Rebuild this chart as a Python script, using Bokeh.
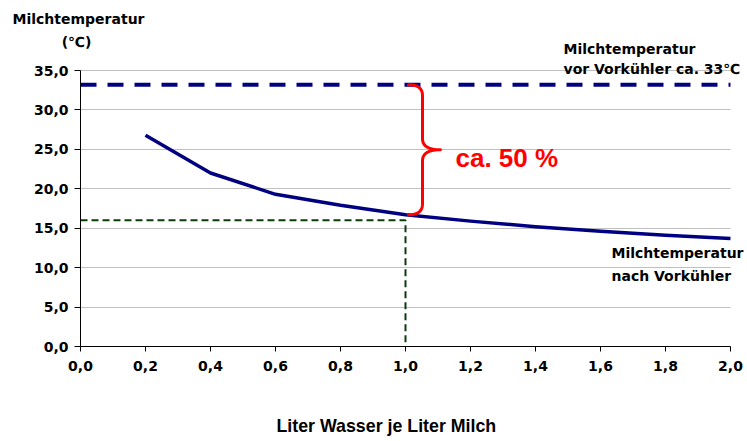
import numpy as np
from bokeh.plotting import figure
from bokeh.models import Range1d, FixedTicker, CustomJSTickFormatter, Label
from bokeh.embed import file_html
from bokeh.resources import INLINE

# ---- data ----
water_per_milk = [0.2, 0.4, 0.6, 0.8, 1.0, 1.2, 1.4, 1.6, 1.8, 2.0]
milk_temp_after = [26.8, 22.0, 19.3, 17.9, 16.7, 15.9, 15.2, 14.6, 14.1, 13.7]
milk_temp_before = 33.2
marker_x = 1.0
marker_y = 16.0
x_ticks = [0.0, 0.2, 0.4, 0.6, 0.8, 1.0, 1.2, 1.4, 1.6, 1.8, 2.0]
y_ticks = [0, 5, 10, 15, 20, 25, 30, 35]

NAVY = "#000080"
GREEN = "#0b3d0b"
RED = "#ff0000"
TICKFONT = "DejaVu Sans"

W, H = 747, 441
# plot area (axes box) in canvas pixels
FL, FR, FT, FB = 80, 730, 70, 346
xpp = (x_ticks[-1] - x_ticks[0]) / (FR - FL)
ypp = (y_ticks[-1] - y_ticks[0]) / (FB - FT)
x_range = Range1d(x_ticks[0] - FL * xpp, x_ticks[-1] + (W - FR) * xpp)
y_range = Range1d(y_ticks[0] - (H - FB) * ypp, y_ticks[-1] + FT * ypp)

p = figure(width=W, height=H, output_backend="svg", toolbar_location=None,
           x_range=x_range, y_range=y_range,
           min_border_left=0, min_border_right=0, min_border_top=0, min_border_bottom=0)
p.title.visible = False
p.outline_line_color = None
p.background_fill_color = "white"
p.border_fill_color = "white"

p.xgrid.grid_line_color = None
p.ygrid.grid_line_color = "#c0c0c0"
p.ygrid.grid_line_width = 1
p.ygrid.bounds = (y_ticks[0], y_ticks[-1])
p.ygrid.cross_bounds = (x_ticks[0], x_ticks[-1])

fmt = CustomJSTickFormatter(code="return tick.toFixed(1).replace('.', ',');")
for ax, ticks in ((p.xaxis[0], x_ticks), (p.yaxis[0], y_ticks)):
    ax.ticker = FixedTicker(ticks=ticks)
    ax.formatter = fmt
    ax.fixed_location = 0
    ax.bounds = (ticks[0], ticks[-1])
    ax.minor_tick_line_color = None
    ax.major_tick_in = 0
    ax.axis_line_color = "black"
    ax.major_tick_line_color = "black"
    ax.major_label_text_font = TICKFONT
    ax.major_label_text_font_style = "bold"
    ax.major_label_text_font_size = "14px"
    ax.major_label_text_color = "black"
p.yaxis.major_tick_out = 6
p.yaxis.major_label_standoff = 6
p.xaxis.major_tick_out = 5
p.xaxis.major_label_standoff = 9

# reference line (before pre-cooler)
p.line([0, 2.0], [milk_temp_before, milk_temp_before], line_color=NAVY,
       line_width=4, line_dash="16 11")

# marker lines at 1 l water / l milk
p.line([0, marker_x, marker_x], [marker_y, marker_y, 0], line_color=GREEN,
       line_width=2, line_dash="7 4")

# main curve
p.line(water_per_milk, milk_temp_after, line_color=NAVY, line_width=3.5, line_join="round")

# curly brace
y_top = milk_temp_before
y_bot = milk_temp_after[water_per_milk.index(1.0)]
y_mid = (y_top + y_bot) / 2
r = 11 * ypp
xl, xm, xt = marker_x + 3 * xpp, marker_x + 17 * xpp, marker_x + 35 * xpp


def quad(a, b, c, n=14):
    t = np.linspace(0, 1, n)[:, None]
    return (1 - t) ** 2 * np.array(a) + 2 * (1 - t) * t * np.array(b) + t ** 2 * np.array(c)


segs = [
    quad((xl, y_top), (xm, y_top), (xm, y_top - r)),
    quad((xm, y_mid + r), (xm, y_mid), (xt, y_mid)),
    quad((xt, y_mid), (xm, y_mid), (xm, y_mid - r)),
    quad((xm, y_bot + r), (xm, y_bot), (xl, y_bot)),
]
brace = np.vstack(segs)
p.line(brace[:, 0], brace[:, 1], line_color=RED, line_width=3, line_join="round", line_cap="round")


def lab(text, px, py, font=TICKFONT, size=14, color="black", align="left"):
    # py is the wanted baseline; the label is anchored a bit lower, so lift it
    p.add_layout(Label(x=px, y=py - 0.346 * size, x_units="canvas", y_units="canvas", text=text,
                       text_font=font, text_font_style="bold", text_font_size=f"{size}px",
                       text_color=color, text_align=align, text_baseline="alphabetic"))


lab("Milchtemperatur", 12, 23)
lab("(℃)", 76, 46, align="center")
lab("Milchtemperatur", 563, 53)
lab("vor Vorkühler ca. 33℃", 563, 73)
lab("Milchtemperatur", 611, 257)
lab("nach Vorkühler", 611, 280)
lab("ca. 50 %", 455, 166, font="Liberation Sans", size=26, color=RED)
lab("Liter Wasser je Liter Milch", 276, 432, font="Liberation Sans", size=17.8)

open("out.html", "w").write(file_html(p, INLINE))
